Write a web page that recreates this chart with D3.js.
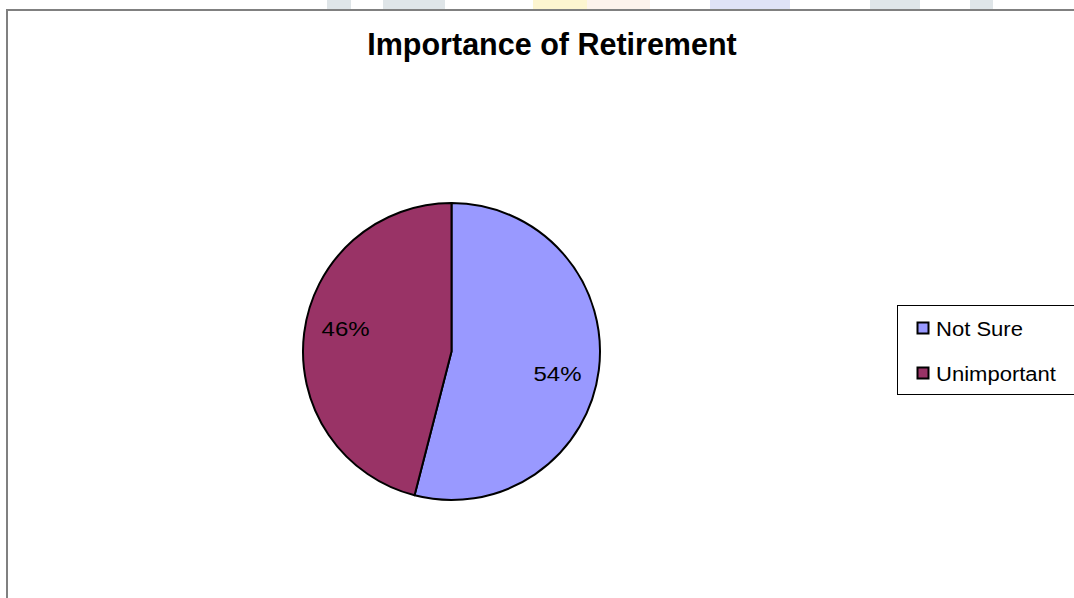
<!DOCTYPE html>
<html>
<head>
<meta charset="utf-8">
<script src="https://cdn.jsdelivr.net/npm/d3@7"></script>
<style>
  html, body { margin: 0; padding: 0; background: #fff; }
  svg { display: block; }
  text { font-family: "Liberation Sans", Arial, sans-serif; }
</style>
</head>
<body>
<svg id="chart" width="1074" height="598"></svg>
<script>
// Survey responses: share of respondents per answer
const categories = ["Not Sure", "Unimportant"];
const values = [54, 46];
const colors = ["#9999FF", "#993366"];
const title = "Importance of Retirement";

const svg = d3.select("#chart");

// Faint page decoration peeking above the chart area
const deco = [
  { x: 327, w: 24, c: "#dfe5e8" }, { x: 383, w: 62, c: "#dfe5e8" },
  { x: 533, w: 54, c: "#fdf5d0" }, { x: 587, w: 63, c: "#fdf3ec" },
  { x: 710, w: 80, c: "#dfe2f7" }, { x: 870, w: 50, c: "#dfe5e8" },
  { x: 970, w: 23, c: "#dfe5e8" }
];
svg.selectAll("rect.deco")
  .data(deco)
  .join("rect")
  .attr("class", "deco")
  .attr("x", d => d.x).attr("y", 0)
  .attr("width", d => d.w).attr("height", 9)
  .attr("fill", d => d.c);

// Chart area frame
svg.append("rect")
  .attr("x", 7).attr("y", 10)
  .attr("width", 1100).attr("height", 620)
  .attr("fill", "#fff")
  .attr("stroke", "#808080")
  .attr("stroke-width", 2);

svg.append("text")
  .attr("x", 552).attr("y", 55)
  .attr("text-anchor", "middle")
  .attr("font-size", 30.5)
  .attr("font-weight", "bold")
  .text(title);

const cx = 451.5, cy = 351.5, r = 148.5;
const pie = d3.pie().sort(null).value(d => d)(values);
const arc = d3.arc().innerRadius(0).outerRadius(r);
// labels sit a little clockwise of each slice's middle
const labelShift = 5 * Math.PI / 180;
const labelArc = d3.arc().innerRadius(r * 0.73).outerRadius(r * 0.73);

const g = svg.append("g").attr("transform", `translate(${cx},${cy})`);
g.selectAll("path.slice")
  .data(pie)
  .join("path")
  .attr("class", "slice")
  .attr("d", arc)
  .attr("fill", (d, i) => colors[i])
  .attr("stroke", "#000")
  .attr("stroke-width", 2)
  .attr("stroke-linejoin", "round");

g.selectAll("text.pct")
  .data(pie)
  .join("text")
  .attr("class", "pct")
  .attr("transform", d => {
    const [x, y] = labelArc.centroid({
      startAngle: d.startAngle + labelShift,
      endAngle: d.endAngle + labelShift
    });
    return `translate(${x},${y + 7}) scale(1.2,1)`;
  })
  .attr("text-anchor", "middle")
  .attr("font-size", 20)
  .text(d => d.data + "%");

// Legend
const lg = svg.append("g");
lg.append("rect")
  .attr("x", 897.5).attr("y", 305.5)
  .attr("width", 200).attr("height", 89)
  .attr("fill", "#fff")
  .attr("stroke", "#000")
  .attr("stroke-width", 1);

const rows = lg.selectAll("g.item")
  .data(categories)
  .join("g")
  .attr("class", "item")
  .attr("transform", (d, i) => `translate(917,${328 + i * 45})`);
rows.append("rect")
  .attr("x", 0.5).attr("y", -5.5)
  .attr("width", 11).attr("height", 11)
  .attr("fill", (d, i) => colors[i])
  .attr("stroke", "#000")
  .attr("stroke-width", 2);
rows.append("text")
  .attr("transform", "translate(19,7.5) scale(1.13,1)")
  .attr("font-size", 19.5)
  .text(d => d);
</script>
</body>
</html>
